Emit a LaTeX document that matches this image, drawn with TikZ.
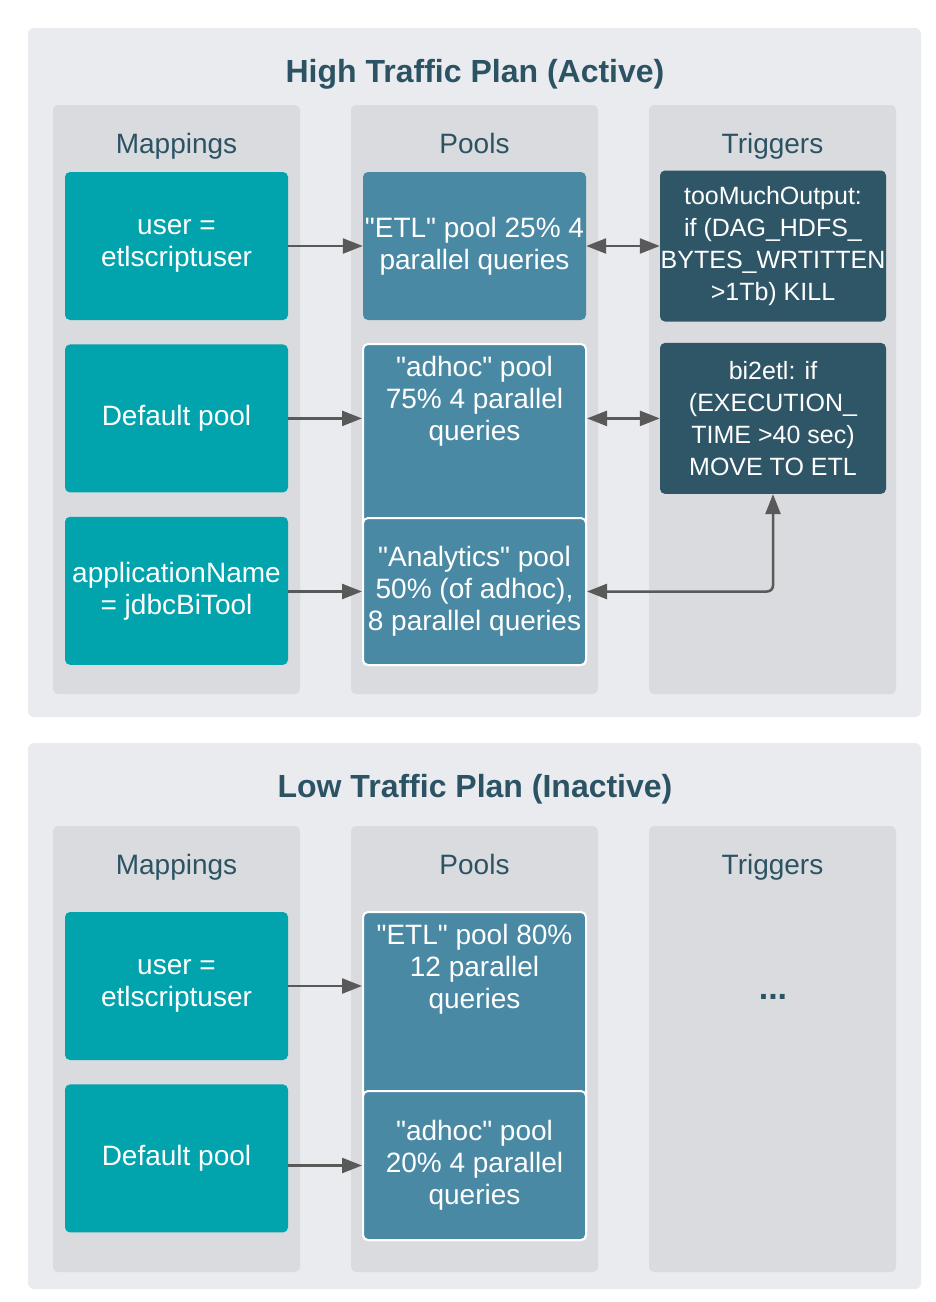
\documentclass[tikz,border=0pt]{standalone}
\usepackage{fontspec}
\setmainfont{Liberation Sans}[Ligatures=TeXOff]
\usetikzlibrary{positioning,arrows.meta}

\definecolor{panelgray}{HTML}{E9EBEE}
\definecolor{colgray}{HTML}{D9DBDE}
\definecolor{mapteal}{HTML}{01A3AD}
\definecolor{poolblue}{HTML}{4A89A4}
\definecolor{trigslate}{HTML}{2F5667}
\definecolor{headslate}{HTML}{2C5364}
\definecolor{arrowgray}{HTML}{595959}

\begin{document}
\begin{tikzpicture}[
  x=1pt, y=1pt,
  panel/.style={fill=panelgray, rounded corners=6pt},
  column/.style={fill=colgray, rounded corners=5pt},
  plantitle/.style={anchor=base, text=headslate, font=\fontsize{32}{38}\selectfont\bfseries},
  colhead/.style={anchor=base, text=headslate, font=\fontsize{28}{32}\selectfont},
  mapbox/.style={fill=mapteal, rounded corners=5pt, text=white, align=center, minimum width=223pt, minimum height=148pt, inner sep=0pt, font=\fontsize{28}{32}\selectfont},
  poolbox/.style={fill=poolblue, rounded corners=5pt, text=white, align=center, minimum width=223pt, inner sep=0pt, font=\fontsize{28}{32}\selectfont},
  edged/.style={draw=white, line width=2pt},
  pooltext/.style={text=white, align=center, inner sep=0pt, font=\fontsize{28}{32}\selectfont},
  trigbox/.style={fill=trigslate, rounded corners=5pt, text=white, align=center, minimum width=226pt, minimum height=151pt, inner sep=0pt, font=\fontsize{25}{32}\selectfont},
  arrow/.style={-{Triangle[length=20pt, width=15pt]}, line width=2.5pt, draw=arrowgray},
  dblarrow/.style={{Triangle[length=20pt, width=15pt]}-{Triangle[length=20pt, width=15pt]}, line width=2.5pt, draw=arrowgray},
]
\useasboundingbox[fill=white] (0,0) rectangle (936,-1302);

% === High traffic plan ===
\path[panel] (28,-28) rectangle (921,-717);
\node[plantitle] (hightitle) at (475,-82) {High Traffic Plan (Active)};
\foreach \cx/\head in {53/Mappings, 351/Pools, 649/Triggers} {
  \path[column] (\cx,-105) rectangle ++(247,-589);
  \node[colhead] at (\cx+123.5,-153) {\head};
}

\node[mapbox] (mapuser) at (176.5,-246) {user =\\etlscriptuser};
\node[mapbox, below=24pt of mapuser] (mapdefault) {Default pool};
\node[mapbox, below=24pt of mapdefault] (mapapp) {applicationName\\= jdbcBiTool};

\node[poolbox, minimum height=148pt] (etl) at (474.5,-246) {"ETL" pool 25\% 4\\parallel queries};
\node[poolbox, edged, minimum height=321pt, anchor=north] (adhoc) at (474.5,-343) {};
\node[pooltext, below=13pt of adhoc.north] (adhoctext) {"adhoc" pool\\75\% 4 parallel\\queries};
\node[poolbox, edged, minimum height=147pt, anchor=south] (analytics) at (adhoc.south) {"Analytics" pool\\50\% (of adhoc),\\8 parallel queries};

\node[trigbox] (toomuch) at (773,-246) {tooMuchOutput:\\if (DAG\_HDFS\_\\BYTES\_WRTITTEN\\>1Tb) KILL};
\node[trigbox, below=21pt of toomuch] (bietl) {bi2etl: if\\(EXECUTION\_\\TIME >40 sec)\\MOVE TO ETL};

\draw[arrow] (mapuser.east |- etl.west) -- (etl.west);
\draw[arrow] (mapdefault.east) -- (mapdefault.east -| adhoc.west);
\draw[arrow] (mapapp.east |- analytics.west) -- (analytics.west);
\draw[dblarrow] (etl.east) -- (etl.east -| toomuch.west);
\draw[dblarrow] (bietl.west -| adhoc.east) -- (bietl.west);
\draw[dblarrow, rounded corners=6pt] (analytics.east) -| (bietl.south);

% === Low traffic plan ===
\path[panel] (28,-743) rectangle (921,-1289);
\node[plantitle] (lowtitle) at (475,-797) {Low Traffic Plan (Inactive)};
\foreach \cx/\head in {53/Mappings, 351/Pools, 649/Triggers} {
  \path[column] (\cx,-826) rectangle ++(247,-446);
  \node[colhead] at (\cx+123.5,-874) {\head};
}

\node[mapbox] (mapuserlow) at (176.5,-986) {user =\\etlscriptuser};
\node[mapbox, below=24pt of mapuserlow] (mapdefaultlow) {Default pool};

\node[poolbox, edged, minimum height=328pt, anchor=north] (etllow) at (474.5,-911) {};
\node[pooltext, below=13pt of etllow.north] (etllowtext) {"ETL" pool 80\%\\12 parallel\\queries};
\node[poolbox, edged, minimum height=149pt, anchor=south] (adhoclow) at (etllow.south) {"adhoc" pool\\20\% 4 parallel\\queries};

\node[text=headslate, font=\fontsize{34}{40}\selectfont\bfseries] (trigmore) at (773,-997) {...};

\draw[arrow] (mapuserlow.east) -- (mapuserlow.east -| etllow.west);
\draw[arrow] (mapdefaultlow.east |- adhoclow.west) -- (adhoclow.west);

\end{tikzpicture}
\end{document}
